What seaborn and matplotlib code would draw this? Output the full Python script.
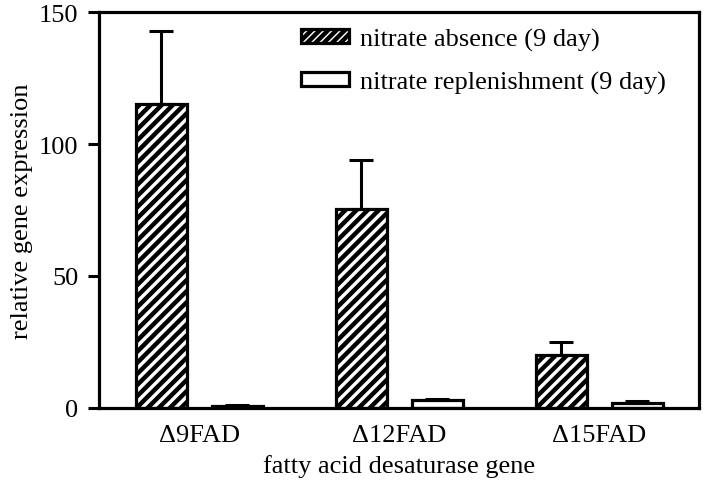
import pandas as pd
import numpy as np
import matplotlib
matplotlib.use("Agg")
import matplotlib.pyplot as plt
import seaborn as sns
from matplotlib.patches import Patch

# data
genes = ["\u03949FAD", "\u039412FAD", "\u039415FAD"]
conditions = ["nitrate absence (9 day)", "nitrate replenishment (9 day)"]
absence = [115, 75.5, 20]
absence_err = [28, 18.5, 5]
replenish = [0.8, 2.8, 2.0]
replenish_err = [0.3, 0.5, 0.6]

df = pd.DataFrame({
    "gene": genes * 2,
    "expr": absence + replenish,
    "condition": [conditions[0]] * 3 + [conditions[1]] * 3,
})
errs = [absence_err, replenish_err]

sns.set_style("white")
plt.rcParams["font.family"] = ["Liberation Serif", "DejaVu Serif"]
plt.rcParams["hatch.linewidth"] = 3.2
plt.rcParams["hatch.color"] = "black"
plt.rcParams["text.color"] = "black"
plt.rcParams["axes.labelcolor"] = "black"
plt.rcParams["xtick.color"] = "black"
plt.rcParams["ytick.color"] = "black"

fig, ax = plt.subplots(figsize=(7.04, 4.85), dpi=100)
fig.subplots_adjust(left=0.141, right=0.993, bottom=0.157, top=0.973)

sns.barplot(data=df, x="gene", y="expr", hue="condition",
            palette=["white", "white"], edgecolor="black", linewidth=2.3,
            width=0.76, gap=0.33, errorbar=None, legend=False, ax=ax)

bar_groups = list(ax.containers)
for i, cont in enumerate(bar_groups):
    xs = [p.get_x() + p.get_width() / 2 for p in cont.patches]
    ys = [p.get_height() for p in cont.patches]
    if i == 0:
        for p in cont.patches:
            p.set_hatch("///")
    ax.errorbar(xs, ys, yerr=[np.zeros(len(ys)), errs[i]], fmt="none",
                ecolor="black", elinewidth=2.2, capsize=8.3, capthick=2.2,
                zorder=1)

ax.set_xlim(-0.5, 2.5)
ax.set_ylim(0, 150)
ax.set_yticks([0, 50, 100, 150])
ax.set_xlabel("fatty acid desaturase gene", fontsize=19, labelpad=6)
ax.set_ylabel("relative gene expression", fontsize=19, labelpad=4)
ax.tick_params(axis="y", which="major", left=True, length=8, width=2.2,
               pad=7, labelsize=19)
ax.tick_params(axis="x", bottom=False, pad=8, labelsize=19)
for s in ax.spines.values():
    s.set_linewidth(2.3)
    s.set_color("black")

handles = [Patch(facecolor="white", edgecolor="black", hatch="////",
                 linewidth=2.3, label=conditions[0]),
           Patch(facecolor="white", edgecolor="black", linewidth=2.3,
                 label=conditions[1])]
ax.legend(handles=handles, loc="upper right", frameon=False, fontsize=19,
          handlelength=1.8, handleheight=0.45, handletextpad=0.45,
          labelspacing=0.75, bbox_to_anchor=(0.985, 1.02))

plt.savefig("out.png", dpi=100)
